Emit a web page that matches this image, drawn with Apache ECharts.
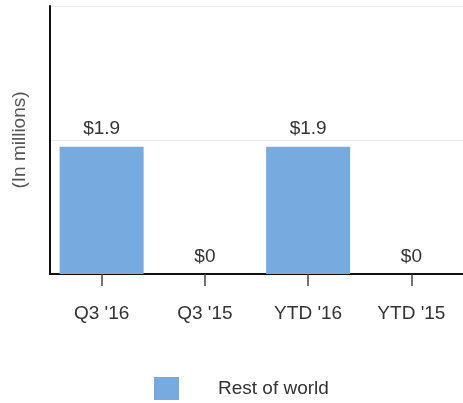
<!DOCTYPE html>
<html><head><meta charset="utf-8">
<script src="https://cdn.jsdelivr.net/npm/echarts@6/dist/echarts.min.js"></script>
<style>html,body{margin:0;padding:0;background:#fff}#c{width:463px;height:403px}</style>
</head><body><div id="c"></div>
<script>
const categories = ["Q3 '16", "Q3 '15", "YTD '16", "YTD '15"];
const restOfWorld = [1.9, 0, 1.9, 0];
const seriesName = "Rest of world";
const yAxisTitle = "(In millions)";

const chart = echarts.init(document.getElementById('c'));
chart.setOption({
  animation: false,
  textStyle: { fontFamily: 'Liberation Sans, Arial, sans-serif' },
  grid: { left: 50, right: -3, top: 6, bottom: 129 },
  legend: {
    data: [seriesName],
    left: 149, top: 372,
    itemWidth: 25, itemHeight: 23,
    icon: 'rect',
    textStyle: { fontSize: 19, color: '#333', padding: [0, 0, 0, 34] }
  },
  xAxis: {
    type: 'category',
    data: categories,
    axisLine: { lineStyle: { color: '#111', width: 2 } },
    axisTick: { show: true, alignWithLabel: true, length: 12, lineStyle: { color: '#444', width: 1.5 } },
    axisLabel: { color: '#333', fontSize: 19, margin: 30 }
  },
  yAxis: {
    type: 'value',
    min: 0, max: 4, interval: 2,
    name: yAxisTitle,
    nameLocation: 'middle',
    nameRotate: 90,
    nameGap: 21,
    nameTextStyle: { color: '#555', fontSize: 19 },
    axisLine: { show: true, lineStyle: { color: '#111', width: 2 } },
    axisTick: { show: false },
    axisLabel: { show: false },
    splitLine: { lineStyle: { color: '#eaeaea', width: 1 } }
  },
  series: [{
    name: seriesName,
    type: 'bar',
    data: restOfWorld,
    barWidth: 84,
    itemStyle: { color: '#77aadf' },
    label: {
      show: true, position: 'top', distance: 8,
      color: '#333', fontSize: 19,
      formatter: p => '$' + p.value
    }
  }]
});
</script>
</body></html>
